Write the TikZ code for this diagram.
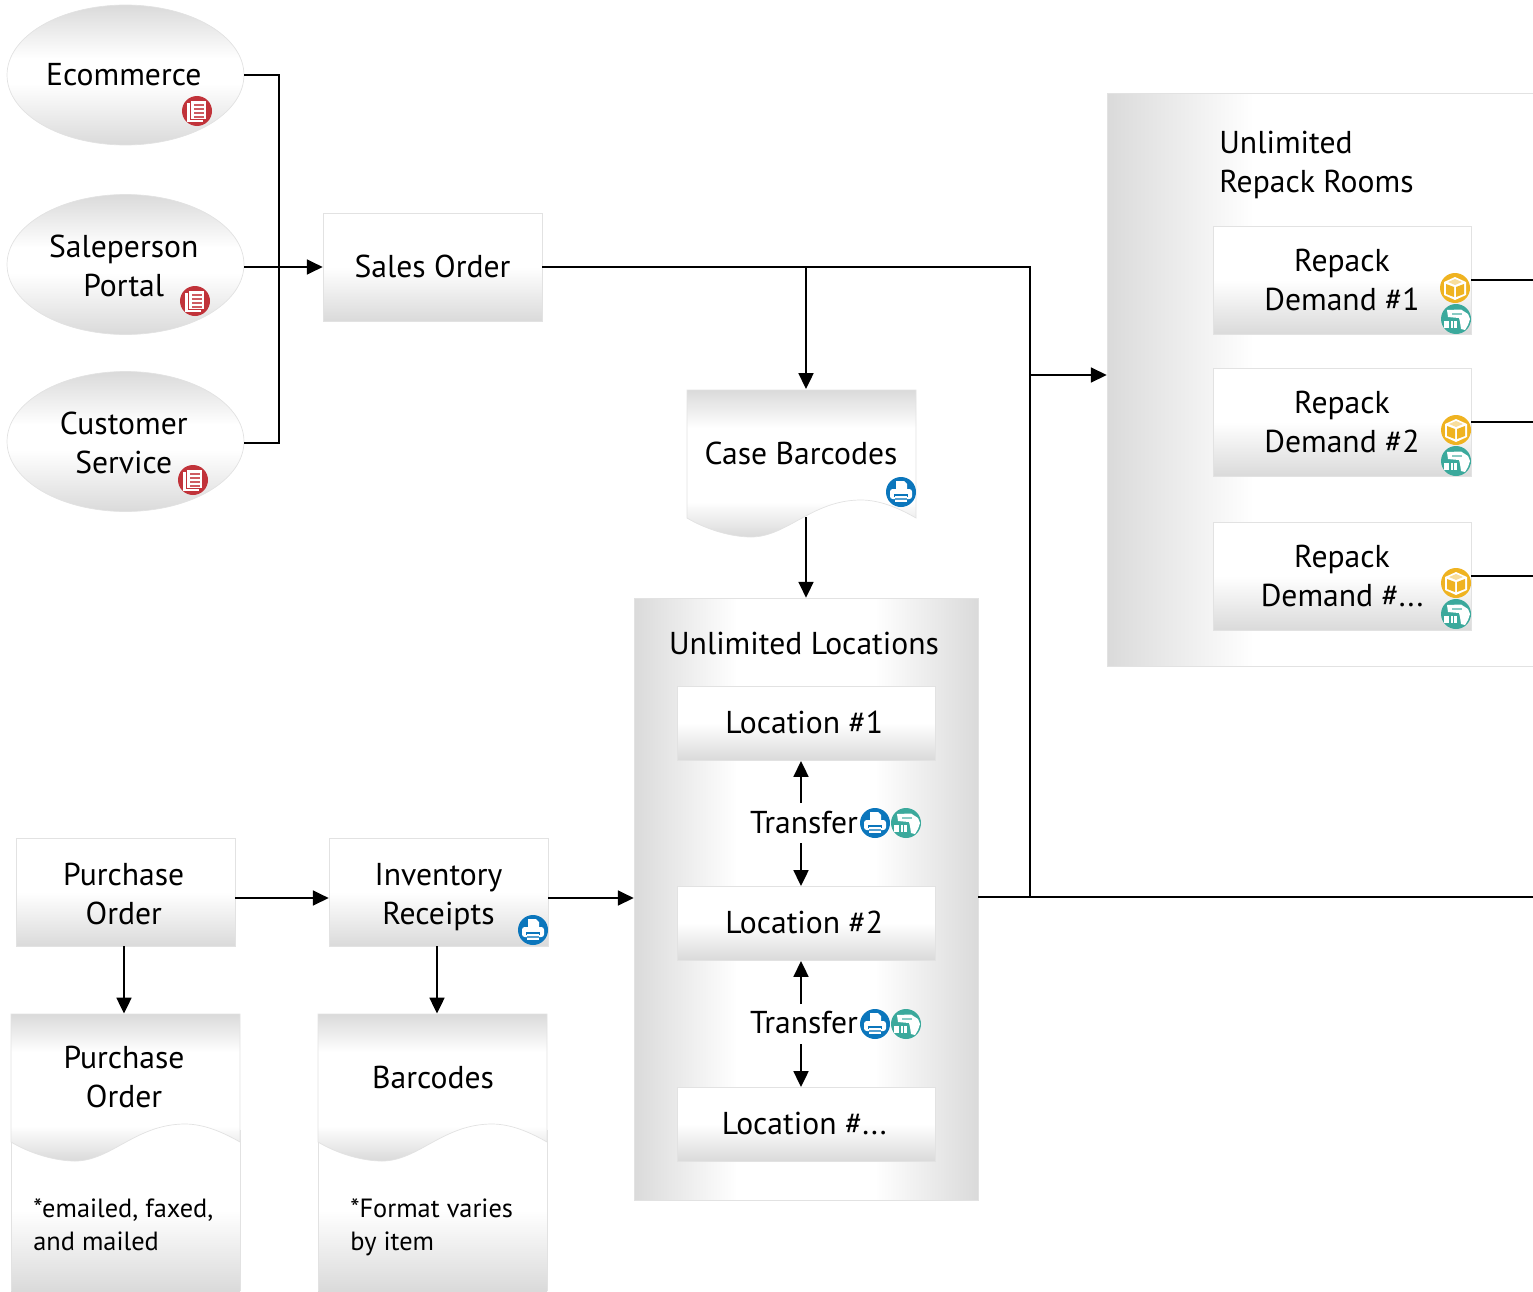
\documentclass[tikz,border=0pt]{standalone}
\usepackage{fontspec}
\setmainfont{PT Sans}
\usetikzlibrary{arrows.meta,shapes.geometric}
\definecolor{shadegrey}{HTML}{DADADA}
\definecolor{edgegrey}{HTML}{E2E2E2}
\definecolor{iconred}{HTML}{C1333A}
\definecolor{iconblue}{HTML}{0B76BC}
\definecolor{iconyellow}{HTML}{EFB321}
\definecolor{iconteal}{HTML}{3BA99C}
\pgfdeclareverticalshading{boxshade}{100bp}{color(0bp)=(shadegrey); color(25bp)=(shadegrey); color(50bp)=(white); color(100bp)=(white)}
\pgfdeclareverticalshading{ovalshade}{100bp}{color(0bp)=(shadegrey); color(25bp)=(shadegrey); color(47bp)=(white); color(56bp)=(white); color(75bp)=(shadegrey); color(100bp)=(shadegrey)}
\pgfdeclareverticalshading{docshade}{100bp}{color(0bp)=(shadegrey); color(25bp)=(shadegrey); color(37bp)=(white); color(62bp)=(white); color(75bp)=(shadegrey); color(100bp)=(shadegrey)}
\pgfdeclareverticalshading{footshade}{100bp}{color(0bp)=(shadegrey); color(25bp)=(shadegrey); color(50bp)=(white); color(100bp)=(white)}
\pgfdeclarehorizontalshading{locpanelshade}{100bp}{color(0bp)=(shadegrey); color(25bp)=(shadegrey); color(40bp)=(white); color(60bp)=(white); color(75bp)=(shadegrey); color(100bp)=(shadegrey)}
\pgfdeclarehorizontalshading{roompanelshade}{100bp}{color(0bp)=(shadegrey); color(25bp)=(shadegrey); color(42bp)=(white); color(100bp)=(white)}
\tikzset{
  txt/.style={font=\fontsize{18}{22.2}\selectfont, align=center, inner sep=0pt, execute at begin node={\rule{0pt}{18.4pt}}, execute at end node=\strut},
  twoline/.style={text height=36.8pt, text depth=0pt, execute at begin node={}, execute at end node={}},
  flowbox/.style={txt, draw=edgegrey, line width=.4pt, shading=boxshade},
  salesbox/.style={flowbox, minimum width=4.38cm, minimum height=2.16cm},
  repackbox/.style={flowbox, twoline, text height=34.8pt, minimum width=5.16cm, minimum height=2.16cm},
  locbox/.style={flowbox, minimum width=5.16cm, minimum height=1.48cm},
  oval/.style={txt, ellipse, draw=edgegrey, line width=.4pt, shading=ovalshade, minimum width=4.74cm, minimum height=2.8cm},
  notetxt/.style={font=\fontsize{15}{18.8}\selectfont, align=left, inner sep=0pt, anchor=west, text height=29.6pt, text depth=0pt},
  wire/.style={line width=1.1pt},
  flow/.style={wire, -{Triangle[length=9pt, width=8.5pt]}},
  docicon/.pic={
    \fill[iconred] (0,0) circle (15);
    \fill[white] (-10,-8) rectangle (6,11);
    \fill[iconred] (-7,-11) rectangle (10,9);
    \fill[white] (-6,-10) rectangle (9,8);
    \foreach \y in {-7,-3,1,5} \fill[iconred!80] (-3,\y) rectangle (7,\y+1.6);
  },
  printicon/.pic={
    \fill[iconblue] (0,0) circle (15);
    \fill[white] (-5,-11) -- (3,-11) -- (6,-8) -- (6,-2) -- (-5,-2) -- cycle;
    \fill[white, rounded corners=1.5] (-11,-3) rectangle (11,7);
    \fill[iconblue] (-7,2) rectangle (7,5);
    \fill[white] (-6,3.5) rectangle (6,10);
    \fill[iconblue!70] (-6,6) rectangle (6,7.5);
  },
  boxicon/.pic={
    \fill[iconyellow] (0,0) circle (15);
    \fill[white] (0,-11) -- (11,-6) -- (11,7) -- (0,12) -- (-11,7) -- (-11,-6) -- cycle;
    \fill[iconyellow] (-9,-4) -- (-1,-1) -- (-1,9) -- (-9,6) -- cycle;
    \fill[iconyellow] (1,-1) -- (9,-4) -- (9,6) -- (1,9) -- cycle;
    \fill[iconyellow!45] (0,-9) -- (7,-6) -- (0,-3) -- (-7,-6) -- cycle;
  },
  scanicon/.pic={
    \fill[iconteal] (0,0) circle (15);
    \fill[white] (-9,-9) -- (5,-9.5) -- (12,-5) -- (14,0) -- (12,6) -- (9,11) -- (5,10) -- (4,3) -- (3,-1) -- (-8,-2) -- cycle;
    \fill[iconteal!60] (-4,-6) rectangle (6,-4.5);
    \fill[white] (-12,2) rectangle (1,9);
    \fill[iconteal] (-7,2) rectangle (-5.5,9);
    \fill[iconteal] (-3,2) rectangle (-2,9);
  },
  docshape/.pic={
    \path[shading=docshade, draw=edgegrey, line width=.4pt] (0,0) -- (229,0) -- (229,128) .. controls (215,120) and (195,110) .. (174,110) .. controls (125,110) and (100,147) .. (64,147) .. controls (45,147) and (20,140) .. (0,128) -- cycle;
  }
}
\begin{document}
\begin{tikzpicture}[x=.02cm, y=-.02cm]
\useasboundingbox (0,0) rectangle (1533,1291);

\node[shading=roompanelshade, draw=edgegrey, minimum width=8.64cm, minimum height=11.46cm] (rooms) at (1323,379.5) {};
\node[shading=locpanelshade, draw=edgegrey, minimum width=6.88cm, minimum height=12.04cm] (locs) at (806,899) {};

\node[oval] (ecom) at (125.5,75) {Ecommerce\hspace*{2pt}};
\node[oval, twoline] (portal) at (125.5,264.5) {Saleperson\hspace*{2pt}\\Portal\hspace*{2pt}};
\node[oval, twoline] (service) at (125.5,441.5) {Customer\hspace*{2pt}\\Service\hspace*{2pt}};
\node[salesbox] (sales) at (432.5,267) {Sales Order};

\node[txt, twoline, align=left, anchor=west] (roomstitle) at (1219,160) {Unlimited\\Repack Rooms};
\node[repackbox] (rp1) at (1342,280) {Repack\\Demand \#1};
\node[repackbox] (rp2) at (1342,422) {Repack\\Demand \#2};
\node[repackbox] (rp3) at (1342,576) {Repack\\Demand \#...};

\pic at (687,390) {docshape};
\node[txt] (case) at (801,454) {Case Barcodes};

\node[txt] (locstitle) at (804,644) {Unlimited Locations};
\node[locbox] (loc1) at (806,723) {Location \#1\hspace{2pt}};
\node[locbox] (loc2) at (806,923) {Location \#2\hspace{2pt}};
\node[locbox] (loc3) at (806,1124) {Location \#...\hspace{2pt}};
\node[txt] (move1) at (804,823.5) {Transfer};
\node[txt] (move2) at (804,1023.5) {Transfer};

\node[salesbox, twoline] (po) at (125.5,892) {Purchase\hspace*{2pt}\\Order\hspace*{2pt}};
\node[salesbox, twoline] (inv) at (438.5,892) {Inventory\\Receipts};

\fill[shading=footshade] (11,1130) rectangle (240,1291);
\fill[shading=footshade] (318,1130) rectangle (547,1291);
\draw[edgegrey, line width=.4pt] (11,1130) -- (11,1291) (240,1130) -- (240,1291) (318,1130) -- (318,1291) (547,1130) -- (547,1291);
\pic at (11,1014) {docshape};
\pic at (318,1014) {docshape};
\node[txt, twoline] (podoc) at (124,1075.5) {Purchase\\Order};
\node[txt] (bars) at (433,1078) {Barcodes};
\node[notetxt] (ponote) at (33,1224.5) {*emailed, faxed,\\and mailed};
\node[notetxt] (barsnote) at (350,1224.5) {*Format varies\\by item};

\coordinate (casetop) at (806,389);
\coordinate (casebot) at (806,517);
\coordinate (podoctop) at (124,1013.5);
\coordinate (barstop) at (437,1013.5);
\coordinate (feed) at (580,898);
\coordinate (bus) at (1030,897);
\coordinate (busend) at (1533,897);
\coordinate (tap) at (1030,375);
\coordinate (join) at (279,267);
\coordinate (svcend) at (279,443);
\coordinate (rp1end) at (1533,280);
\coordinate (rp2end) at (1533,422);
\coordinate (rp3end) at (1533,576);

\draw[wire] (ecom.east) -| (join) -- (svcend) -- (svcend -| service.east);
\draw[flow] (portal.east |- join) -- (sales.west);
\draw[wire] (sales.east) -| (bus);
\draw[flow] (casetop |- sales.east) -- (casetop);
\draw[flow] (casebot) -- (casebot |- locs.north);
\draw[flow] (tap) -- (tap -| rooms.west);
\draw[wire] (locs.east |- bus) -- (busend);
\draw[wire] (rp1.east) -- (rp1end);
\draw[wire] (rp2.east) -- (rp2end);
\draw[wire] (rp3.east) -- (rp3end);
\draw[flow] (po.east |- feed) -- (inv.west |- feed);
\draw[flow] (inv.east |- feed) -- (locs.west |- feed);
\draw[flow] (po.south -| podoctop) -- (podoctop);
\draw[flow] (inv.south -| barstop) -- (barstop);
\draw[flow] (801,803) -- (801,761);
\draw[flow] (801,843) -- (801,886);
\draw[flow] (801,1004) -- (801,961);
\draw[flow] (801,1044) -- (801,1087);

\pic at (197,111) {docicon};
\pic at (195,301) {docicon};
\pic at (193,480) {docicon};
\pic at (533,930) {printicon};
\pic at (901,492) {printicon};
\pic at (875,823) {printicon};
\pic at (875,1024) {printicon};
\pic at (906,823) {scanicon};
\pic at (906,1024) {scanicon};
\pic at (1455,288) {boxicon};
\pic at (1456,430) {boxicon};
\pic at (1456,583) {boxicon};
\pic at (1456,319) {scanicon};
\pic at (1456,461) {scanicon};
\pic at (1456,614) {scanicon};
\end{tikzpicture}
\end{document}
